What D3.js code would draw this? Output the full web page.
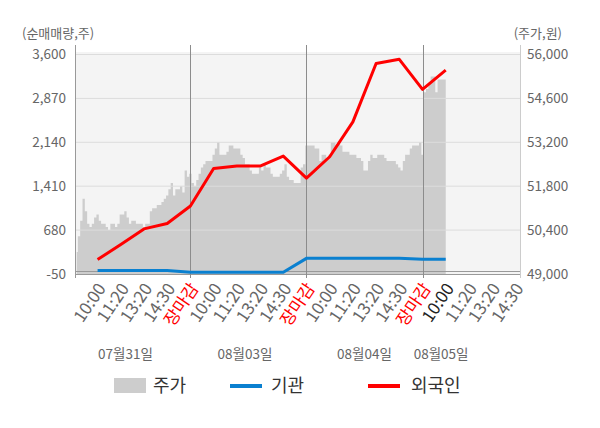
<!DOCTYPE html>
<html>
<head>
<meta charset="utf-8">
<script src="https://cdn.jsdelivr.net/npm/d3@7"></script>
<style>
  body { margin: 0; background: #fff; }
  svg { font-family: "Noto Sans CJK KR", "Noto Sans", sans-serif; }
</style>
</head>
<body>
<script>
// days shown on the x axis, and the time labels inside each day
const days = ["07월31일", "08월03일", "08월04일", "08월05일"];
const timeLabels = ["10:00", "11:20", "13:20", "14:30", "장마감"];

// net buying (shares), one value per time slot
const foreignValues = [190, 440, 700, 790, 1080, 1705, 1745, 1745, 1910, 1545, 1900, 2480, 3450, 3520, 3020, 3340];
const instValues = [10, 10, 10, 10, -20, -20, -20, -20, -20, 210, 210, 210, 210, 210, 195, 195];

// share price (won), sampled every 0.1 slot from slot -0.9
const priceValues = [
  49700, 50200, 50700, 51400, 51000, 50600, 50500, 50600, 50800, 50900,
  50700, 50600, 50600, 50500, 50400, 50600, 50600, 50500, 50600, 50900,
  50900, 51000, 50800, 50600, 50700, 50700, 50600, 50600, 50600, 50500,
  50600, 50600, 51000, 51100, 51100, 51200, 51200, 51300, 51400, 51500,
  51700, 51900, 51500, 51700, 51700, 51800, 51600, 52300, 52100, 52200,
  51900, 51800, 52000, 52200, 52400, 52500, 52600, 52600, 52600, 52800,
  53000, 53200, 52800, 52800, 52800, 52900, 53100, 53100, 53000, 53000,
  53000, 52800, 52700, 52500, 52500, 52300, 52200, 52200, 52200, 52400,
  52300, 52500, 52400, 52400, 52200, 52100, 52100, 52100, 52200, 52300,
  52500, 52100, 52000, 52000, 51900, 51900, 51900, 52400, 52500, 53100,
  53100, 53100, 53100, 53000, 53000, 52600, 52800, 52800, 52700, 52800,
  53200, 53200, 53100, 53200, 53100, 52900, 52900, 52900, 52800, 52800,
  52800, 52700, 52700, 52600, 52300, 52300, 52600, 52800, 52700, 52700,
  52800, 52800, 52800, 52700, 52600, 52600, 52600, 52600, 52500, 52400,
  52300, 52600, 52800, 52800, 53000, 53100, 53100, 53100, 53200, 52800,
  54800, 54900, 55100, 55300, 55300, 54800, 55200, 55200, 55200, 55200
];
const priceStart = -0.9;
const priceStep = 0.1;

const netTicks = [-50, 680, 1410, 2140, 2870, 3600];
const priceTicks = [49000, 50400, 51800, 53200, 54600, 56000];

const width = 600, height = 428;
const plotLeft = 76, plotRight = 520, plotTop = 54.5, plotBottom = 274;
const slotsPerDay = 5;

const svg = d3.select("body").append("svg")
  .attr("width", width)
  .attr("height", height);

// x is measured in time slots; each day has 5 labelled slots
const x = d3.scaleLinear().domain([-0.93, 18.2]).range([plotLeft, plotRight]);
const yNet = d3.scaleLinear().domain([-50, 3600]).range([plotBottom, plotTop]);
const yPrice = d3.scaleLinear().domain([49000, 56000]).range([plotBottom, plotTop]);
const fmt = v => d3.format(",")(v).replace("\u2212", "-");

// plot background
svg.append("rect")
  .attr("x", plotLeft).attr("y", 52)
  .attr("width", plotRight - plotLeft).attr("height", plotBottom - 52)
  .attr("fill", "#f4f4f4");

// price area
const area = d3.area()
  .curve(d3.curveStep)
  .x((d, i) => x(priceStart + i * priceStep))
  .y0(plotBottom)
  .y1(d => yPrice(d));

svg.append("path")
  .datum(priceValues)
  .attr("d", area)
  .attr("fill", "#cdcdcd");

// horizontal grid
svg.append("g")
  .selectAll("line")
  .data(netTicks.slice(1))
  .join("line")
  .attr("x1", plotLeft).attr("x2", plotRight)
  .attr("y1", d => yNet(d)).attr("y2", d => yNet(d))
  .attr("stroke", "#dcdcdc");

// zero line and bottom axis
svg.append("line")
  .attr("x1", plotLeft).attr("x2", plotRight)
  .attr("y1", Math.round(yNet(0)) + 0.5).attr("y2", Math.round(yNet(0)) + 0.5)
  .attr("stroke", "#999");
svg.append("line")
  .attr("x1", plotLeft).attr("x2", plotRight)
  .attr("y1", plotBottom + 0.5).attr("y2", plotBottom + 0.5)
  .attr("stroke", "#999");

// day separators
const dayBreaks = d3.range(1, days.length).map(d => d * slotsPerDay - 1);
svg.append("g")
  .selectAll("line")
  .data(dayBreaks)
  .join("line")
  .attr("x1", d => Math.round(x(d)) + 0.5).attr("x2", d => Math.round(x(d)) + 0.5)
  .attr("y1", 45).attr("y2", 278)
  .attr("stroke", "#8c8c8c");

// side axis lines
svg.append("line")
  .attr("x1", plotLeft - 0.5).attr("x2", plotLeft - 0.5)
  .attr("y1", 45).attr("y2", 278)
  .attr("stroke", "#999");
svg.append("line")
  .attr("x1", plotRight + 0.5).attr("x2", plotRight + 0.5)
  .attr("y1", 45).attr("y2", 278)
  .attr("stroke", "#ccc");

// net buying lines
const line = d3.line()
  .x((d, i) => x(i))
  .y(d => yNet(d));

svg.append("path")
  .datum(instValues)
  .attr("d", line)
  .attr("fill", "none")
  .attr("stroke", "#0a80d0")
  .attr("stroke-width", 3);

svg.append("path")
  .datum(foreignValues)
  .attr("d", line)
  .attr("fill", "none")
  .attr("stroke", "#ff0000")
  .attr("stroke-width", 3)
  .attr("stroke-linejoin", "round");

// left and right tick labels
svg.append("g")
  .selectAll("text")
  .data(netTicks)
  .join("text")
  .attr("x", 66)
  .attr("y", d => yNet(d))
  .attr("dy", "0.35em")
  .attr("text-anchor", "end")
  .attr("font-size", 13.5)
  .attr("fill", "#666")
  .text(fmt);

svg.append("g")
  .selectAll("text")
  .data(priceTicks)
  .join("text")
  .attr("x", 527)
  .attr("y", d => yPrice(d))
  .attr("dy", "0.35em")
  .attr("font-size", 13.5)
  .attr("fill", "#666")
  .text(fmt);

svg.append("text")
  .attr("x", 22).attr("y", 38)
  .attr("font-size", 13)
  .attr("fill", "#666")
  .text("(순매매량,주)");
svg.append("text")
  .attr("x", 562).attr("y", 38)
  .attr("text-anchor", "end")
  .attr("font-size", 13)
  .attr("fill", "#666")
  .text("(주가,원)");

// x tick labels
const ticks = [];
days.forEach((day, d) => {
  timeLabels.forEach((t, j) => {
    const slot = d * slotsPerDay + j;
    if (slot <= x.domain()[1]) ticks.push({ slot, t, d, j });
  });
});

svg.append("g")
  .selectAll("text")
  .data(ticks)
  .join("text")
  .attr("transform", d => `translate(${x(d.slot) + 4},${plotBottom + 11}) rotate(-56)`)
  .attr("text-anchor", "end")
  .attr("dy", "0.35em")
  .attr("font-size", 17)
  .attr("fill", d => d.t === "장마감" ? "#ff0000" : (d.d === days.length - 1 && d.j === 0 ? "#222" : "#666"))
  .text(d => d.t);

// day labels
const dayLabelSlots = [1.2, 6.35, 11.5, 14.8];
svg.append("g")
  .selectAll("text")
  .data(days)
  .join("text")
  .attr("x", (d, i) => x(dayLabelSlots[i]))
  .attr("y", 359)
  .attr("text-anchor", "middle")
  .attr("font-size", 13.5)
  .attr("fill", "#666")
  .text(d => d);

// legend
const legend = svg.append("g").attr("transform", "translate(0,386)");
legend.append("rect")
  .attr("x", 114).attr("y", -8)
  .attr("width", 32).attr("height", 15)
  .attr("fill", "#cdcdcd");
legend.append("text").attr("x", 153).attr("y", 0).attr("dy", "0.35em")
  .attr("font-size", 18).attr("fill", "#333").text("주가");
legend.append("line")
  .attr("x1", 230).attr("x2", 262).attr("y1", 0).attr("y2", 0)
  .attr("stroke", "#0a80d0").attr("stroke-width", 4);
legend.append("text").attr("x", 271).attr("y", 0).attr("dy", "0.35em")
  .attr("font-size", 18).attr("fill", "#333").text("기관");
legend.append("line")
  .attr("x1", 368).attr("x2", 400).attr("y1", 0).attr("y2", 0)
  .attr("stroke", "#ff0000").attr("stroke-width", 4);
legend.append("text").attr("x", 411).attr("y", 0).attr("dy", "0.35em")
  .attr("font-size", 18).attr("fill", "#333").text("외국인");
</script>
</body>
</html>
